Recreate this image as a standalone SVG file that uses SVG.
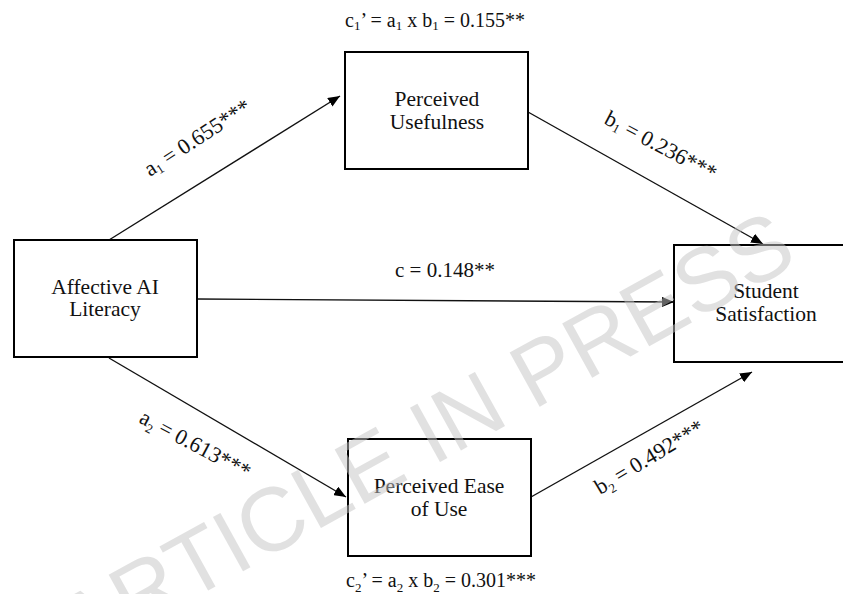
<svg xmlns="http://www.w3.org/2000/svg" width="843" height="594" viewBox="0 0 843 594">
<defs>
<marker id="ah" viewBox="0 0 12 10" refX="12" refY="5" markerWidth="12" markerHeight="10" markerUnits="userSpaceOnUse" orient="auto">
<path d="M0,0 L12,5 L0,10 Z" fill="#000"/>
</marker>
<style>
.box{fill:#fff;stroke:#000;stroke-width:2}
.nt{font-family:"Liberation Serif","Times New Roman",serif;font-size:21.5px;fill:#111;text-anchor:middle}
.lb{font-family:"Liberation Serif","Times New Roman",serif;font-size:22px;fill:#111}
.eq{font-family:"Liberation Serif","Times New Roman",serif;font-size:20px;fill:#111;text-anchor:middle}
.sub{font-size:13px}
.cn{stroke:#111;stroke-width:1.4;fill:none;marker-end:url(#ah)}
.wm{font-family:"Liberation Sans",Arial,sans-serif;font-size:90px;fill:#c4c4c4;opacity:0.5;text-anchor:middle}
</style>
</defs>
<rect width="843" height="594" fill="#fff"/>
<g id="connectors">
<line class="cn" x1="109" y1="240" x2="340" y2="96"/>
<line class="cn" x1="528" y1="112" x2="763" y2="244"/>
<line class="cn" x1="197" y1="299" x2="674" y2="302"/>
<line class="cn" x1="109" y1="358" x2="346" y2="497"/>
<line class="cn" x1="531" y1="497" x2="752" y2="372"/>
</g>
<g id="node-pu">
<rect class="box" x="345" y="52" width="183" height="117"/>
<text class="nt" x="437" y="106">Perceived</text>
<text class="nt" x="437" y="129">Usefulness</text>
</g>
<g id="node-aal">
<rect class="box" x="14" y="240" width="183" height="117"/>
<text class="nt" x="105" y="294">Affective AI</text>
<text class="nt" x="105" y="316">Literacy</text>
</g>
<g id="node-ss">
<rect class="box" x="674" y="245" width="184" height="117"/>
<text class="nt" x="766" y="298">Student</text>
<text class="nt" x="766" y="321">Satisfaction</text>
</g>
<g id="node-peu">
<rect class="box" x="348" y="439" width="183" height="117"/>
<text class="nt" x="439" y="493">Perceived Ease</text>
<text class="nt" x="439" y="516">of Use</text>
</g>
<g id="labels">
<text class="eq" x="435" y="27">c<tspan class="sub" dy="3">1</tspan><tspan dy="-3">’ = a</tspan><tspan class="sub" dy="3">1</tspan><tspan dy="-3"> x b</tspan><tspan class="sub" dy="3">1</tspan><tspan dy="-3"> = 0.155**</tspan></text>
<text class="eq" x="441" y="587">c<tspan class="sub" dy="5">2</tspan><tspan dy="-5">’ = a</tspan><tspan class="sub" dy="5">2</tspan><tspan dy="-5"> x b</tspan><tspan class="sub" dy="5">2</tspan><tspan dy="-5"> = 0.301***</tspan></text>
<text class="lb" x="395" y="277" style="font-size:21px">c = 0.148**</text>
<text class="lb" transform="translate(150,177) rotate(-33)">a<tspan class="sub" dy="3">1</tspan><tspan dy="-3"> = 0.655***</tspan></text>
<text class="lb" transform="translate(603,123) rotate(28)">b<tspan class="sub" dy="3">1</tspan><tspan dy="-3"> = 0.236***</tspan></text>
<text class="lb" transform="translate(138,422) rotate(28)">a<tspan class="sub" dy="5">2</tspan><tspan dy="-5"> = 0.613***</tspan></text>
<text class="lb" transform="translate(600,495) rotate(-31)">b<tspan class="sub" dy="5">2</tspan><tspan dy="-5"> = 0.492***</tspan></text>
</g>
<text class="wm" transform="translate(440,462) rotate(-29)">ARTICLE IN PRESS</text>
</svg>
